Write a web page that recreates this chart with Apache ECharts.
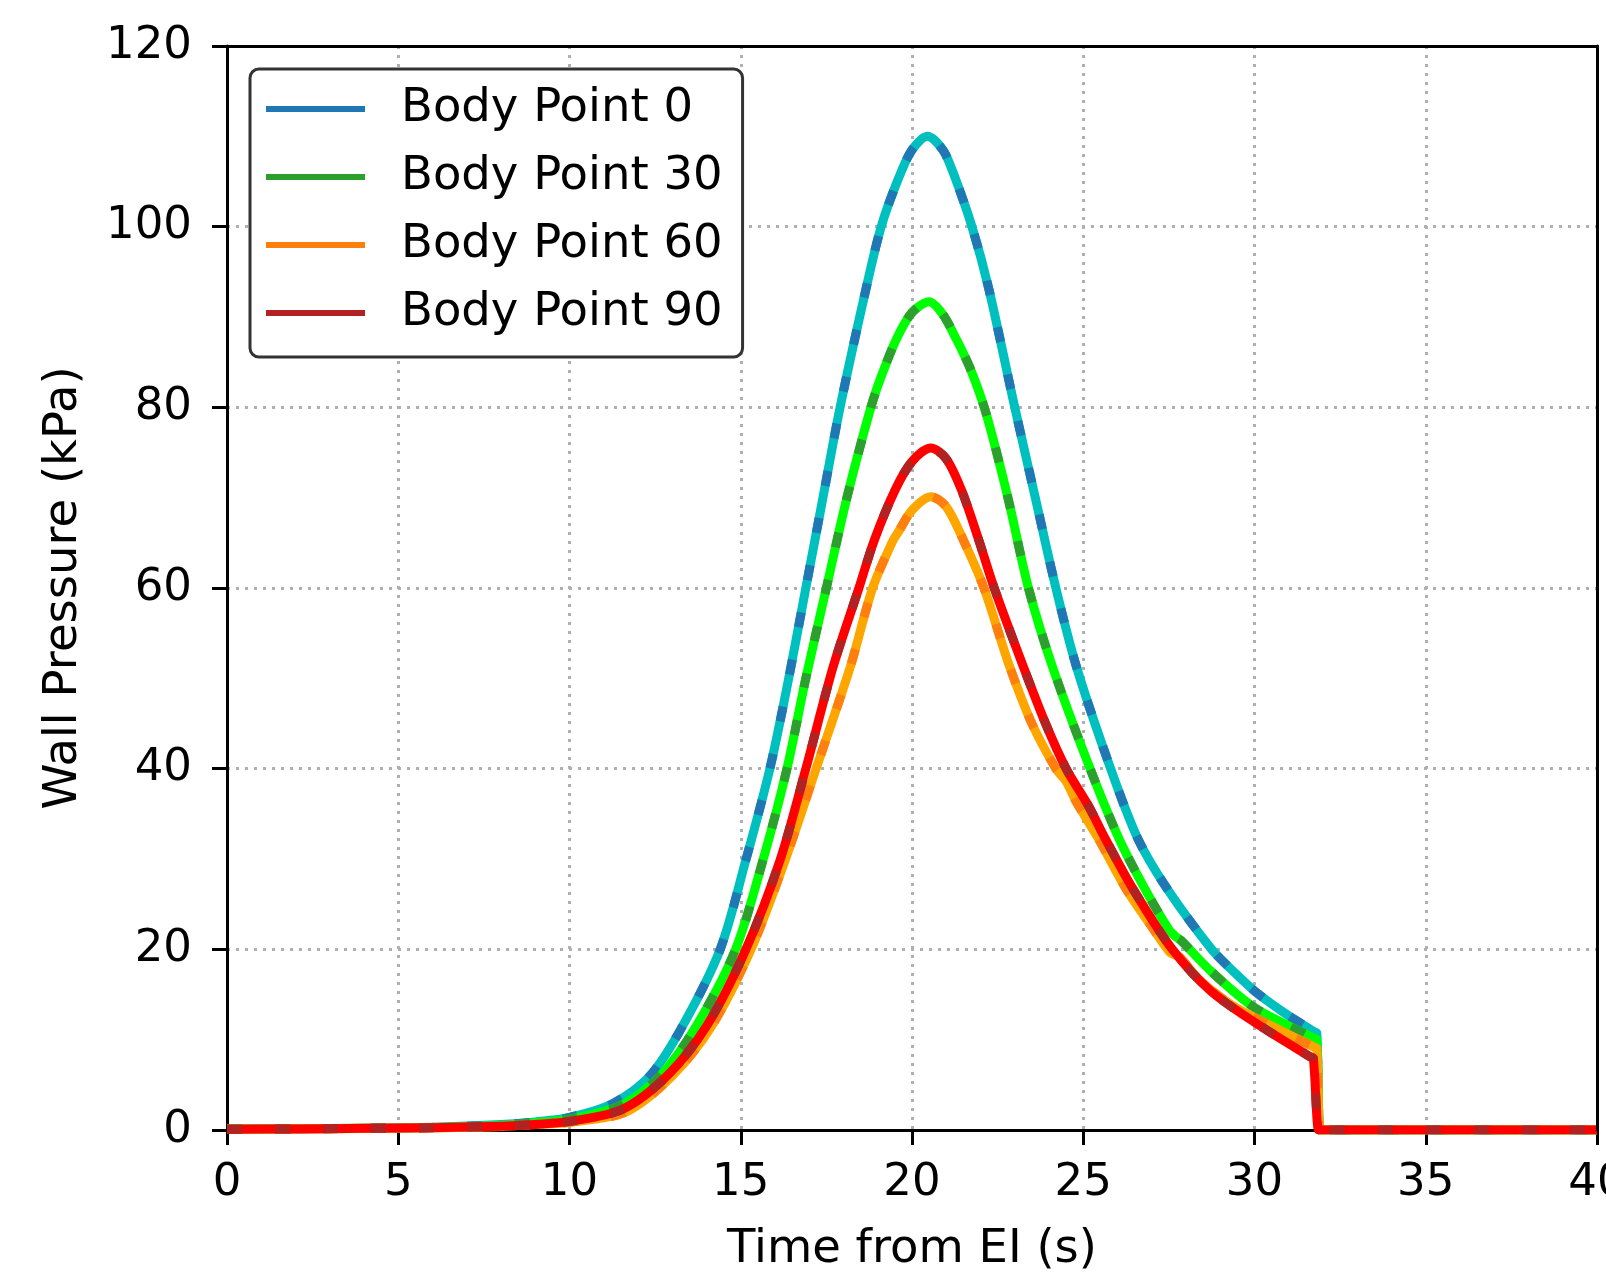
<!DOCTYPE html>
<html>
<head>
<meta charset="utf-8">
<script src="https://cdn.jsdelivr.net/npm/echarts@6/dist/echarts.min.js"></script>
<style>
html,body{margin:0;padding:0;background:#fff;}
#chart{width:1606px;height:1276px;}
</style>
</head>
<body>
<div id="chart"></div>
<script>
// Data: [time (s), wall pressure (kPa)]
var seriesNames = ['Body Point 0', 'Body Point 30', 'Body Point 60', 'Body Point 90'];
var xTicks = [0, 5, 10, 15, 20, 25, 30, 35, 40];
var yTicks = [0, 20, 40, 60, 80, 100, 120];

var bp0 = [[0,0.1],[2,0.15],[4,0.2],[6,0.3],[8,0.6],[9,0.9],[10,1.4],[11.3,3.0],[12.35,6.0],[13.3,11.5],[14.4,20],[15.15,29.9],[15.85,40],[16.4,50],[16.9,60],[17.4,70],[17.9,80],[18.65,93],[19.1,100],[19.6,105.3],[20.0,108.5],[20.45,110],[20.9,108.5],[21.2,106],[21.75,100],[22.25,93],[23.0,80],[23.6,70],[24.2,60],[24.8,51.3],[25.8,40],[26.6,32.2],[27.45,26.7],[28.75,20],[29.4,17.5],[30.0,15.4],[30.9,12.9],[31.75,10.85],[31.82,10.7],[31.9,0],[31.95,0],[40,0]];
var bp30 = [[0,0.1],[2,0.14],[4,0.2],[6,0.28],[8,0.5],[9,0.8],[10,1.2],[11.5,2.7],[12.65,6.0],[13.7,11.5],[14.85,20],[15.65,29.9],[16.35,40],[16.9,50],[17.5,60],[18.1,70],[18.8,80],[19.1,83.4],[19.55,87.6],[20.0,90.5],[20.5,91.7],[20.9,90.3],[21.3,87.5],[21.7,84.3],[22.15,79.5],[22.8,70],[23.4,60],[24.1,51.3],[25.2,40],[26.05,32.2],[26.8,26.7],[27.5,22.2],[27.7,21.4],[27.85,21.0],[28.75,17.5],[29.9,13.8],[30.9,11.7],[31.75,10.15],[31.82,10.0],[31.9,0],[31.95,0],[40,0]];
var bp60 = [[0,0.08],[2,0.12],[4,0.17],[6,0.25],[8,0.4],[9,0.6],[10,0.85],[11.65,2.0],[13.0,6.0],[14.15,11.5],[15.3,20],[16.3,29.9],[17.2,40],[18.2,51.3],[18.85,60],[19.45,65.3],[19.6,66.2],[20.0,68.6],[20.55,70.1],[21.0,69.0],[21.5,65.3],[22.1,60],[22.85,51.3],[23.5,45],[24.2,40],[24.5,38.6],[24.8,36.3],[25.45,32.2],[26.25,26.7],[27.0,22.5],[27.55,19.6],[27.8,19.2],[28.4,16.6],[29.35,13.8],[30.5,11.5],[31.75,9.15],[31.82,9.0],[31.9,0],[31.95,0],[40,0]];
var bp90 = [[0,0.08],[2,0.12],[4,0.18],[6,0.25],[8,0.42],[9,0.62],[10,0.95],[11.55,2.3],[12.85,6.0],[14.0,11.5],[15.15,20],[16.15,29.9],[16.9,40],[17.7,51.3],[18.45,60],[18.9,65.3],[19.5,70.8],[20.0,74],[20.55,75.5],[21.0,74.3],[21.45,70.8],[21.95,65.3],[22.4,60],[23.25,51.3],[23.9,45],[24.5,40],[25.15,35.9],[25.65,32.2],[26.45,26.7],[27.6,20],[28.75,15.3],[30.3,11.2],[31.65,8.05],[31.72,7.9],[31.87,0],[31.92,0],[40,0]];

var seriesData = [bp0, bp30, bp60, bp90];
var brightColors = ['#00bfbf', '#00ff00', '#ffa500', '#ff0000'];
var dashColors = ['#1f77b4', '#2ca02c', '#ff7f0e', '#b22222'];

var FONT = 'DejaVu Sans';
var chart = echarts.init(document.getElementById('chart'), null, {renderer: 'canvas'});

var series = [];
for (var i = 0; i < seriesData.length; i++) {
  series.push({
    name: seriesNames[i] + ' (solid)',
    type: 'line',
    data: seriesData[i],
    symbol: 'none',
    smooth: 0.3,
    color: brightColors[i],
    lineStyle: {color: brightColors[i], width: 9, cap: 'butt', join: 'round'},
    z: 2 + i * 2,
    silent: true
  });
  series.push({
    name: seriesNames[i],
    type: 'line',
    data: seriesData[i],
    symbol: 'none',
    smooth: 0.3,
    color: dashColors[i],
    lineStyle: {color: dashColors[i], width: 9, type: [15, 33], cap: 'butt'},
    z: 3 + i * 2,
    silent: true
  });
}

var frameAxis = {
  axisLine: {show: true, onZero: false, lineStyle: {color: '#000', width: 3}},
  axisTick: {show: false}, axisLabel: {show: false}, splitLine: {show: false}, z: 20
};

var option = {
  backgroundColor: '#ffffff',
  animation: false,
  grid: {
    left: 227, right: 9, top: 46, bottom: 146,
    containLabel: false, outerBoundsMode: 'none',
    show: false
  },
  legend: {
    data: seriesNames.map(function (n) { return {name: n, icon: 'rect'}; }),
    orient: 'vertical',
    left: 250, top: 69,
    itemWidth: 99, itemHeight: 6, itemGap: 16,
    padding: [14, 20, 18, 16],
    backgroundColor: '#ffffff',
    borderColor: '#333333', borderWidth: 3, borderRadius: 9,
    textStyle: {fontFamily: FONT, fontSize: 46.5, color: '#000', lineHeight: 52, padding: [0, 0, 0, 31]},
    selectedMode: false,
    z: 30
  },
  xAxis: [{
    type: 'value', min: 0, max: 40, interval: 5,
    name: 'Time from EI (s)', nameLocation: 'middle', nameGap: 96,
    nameTextStyle: {fontFamily: FONT, fontSize: 46.5, color: '#000'},
    axisLine: {show: true, onZero: false, lineStyle: {color: '#000', width: 3}},
    axisTick: {show: true, inside: false, length: 15, lineStyle: {color: '#000', width: 3}},
    axisLabel: {
      fontFamily: FONT, fontSize: 45, color: '#000', margin: 31,
      formatter: function (v) { return xTicks.indexOf(v) >= 0 ? String(v) : ''; }
    },
    splitLine: {show: true, lineStyle: {color: '#b0b0b0', width: 3, type: [3, 6]}}
  }, Object.assign({type: 'value', position: 'top', min: 0, max: 40}, frameAxis)],
  yAxis: [{
    type: 'value', min: 0, max: 120, interval: 20,
    name: 'Wall Pressure (kPa)', nameLocation: 'middle', nameGap: 140,
    nameTextStyle: {fontFamily: FONT, fontSize: 46.5, color: '#000'},
    axisLine: {show: true, onZero: false, lineStyle: {color: '#000', width: 3}},
    axisTick: {show: true, inside: false, length: 15, lineStyle: {color: '#000', width: 3}},
    axisLabel: {
      fontFamily: FONT, fontSize: 45, color: '#000', margin: 35,
      formatter: function (v) { return yTicks.indexOf(v) >= 0 ? String(v) : ''; }
    },
    splitLine: {show: true, lineStyle: {color: '#b0b0b0', width: 3, type: [3, 6]}}
  }, Object.assign({type: 'value', position: 'right', min: 0, max: 120}, frameAxis)],
  series: series
};
chart.setOption(option);
</script>
</body>
</html>
